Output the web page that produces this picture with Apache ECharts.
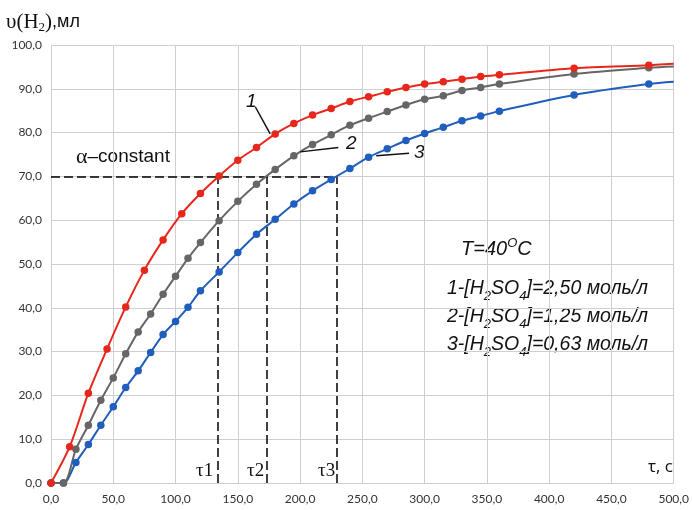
<!DOCTYPE html>
<html>
<head>
<meta charset="utf-8">
<script src="https://cdn.jsdelivr.net/npm/echarts@6/dist/echarts.min.js"></script>
<style>
html, body { margin: 0; padding: 0; background: #fff; }
#chart { width: 692px; height: 510px; }
</style>
</head>
<body>
<div id="chart"></div>
<script>
// time, s
var timeRed = [0, 15, 30, 45, 60, 75, 90, 105, 120, 135, 150, 165, 180, 195, 210, 225, 240, 255, 270, 285, 300, 315, 330, 345, 360, 420, 480, 500];
var volRed = [0, 8.3, 20.5, 30.6, 40.2, 48.6, 55.5, 61.5, 66.1, 70.1, 73.7, 76.6, 79.7, 82.1, 84.0, 85.5, 87.1, 88.2, 89.3, 90.3, 91.1, 91.6, 92.2, 92.8, 93.2, 94.7, 95.4, 95.7];

var timeGray = [0, 10, 20, 30, 40, 50, 60, 70, 80, 90, 100, 110, 120, 135, 150, 165, 180, 195, 210, 225, 240, 255, 270, 285, 300, 315, 330, 345, 360, 420, 480, 500];
var volGray = [0, 0, 7.7, 13.2, 18.9, 24.0, 29.5, 34.5, 38.6, 43.1, 47.2, 51.3, 54.9, 59.9, 64.3, 68.2, 71.6, 74.7, 77.3, 79.5, 81.7, 83.3, 84.8, 86.3, 87.6, 88.4, 89.6, 90.3, 91.1, 93.4, 94.8, 95.1];

var timeBlue = [0, 10, 20, 30, 40, 50, 60, 70, 80, 90, 100, 110, 120, 135, 150, 165, 180, 195, 210, 225, 240, 255, 270, 285, 300, 315, 330, 345, 360, 420, 480, 500];
var volBlue = [0, 0, 4.7, 8.8, 13.2, 17.4, 21.8, 25.6, 29.8, 33.9, 36.9, 40.1, 43.9, 48.2, 52.6, 56.8, 60.2, 63.7, 66.7, 69.3, 71.8, 74.4, 76.3, 78.2, 79.8, 81.2, 82.7, 83.8, 84.9, 88.6, 91.1, 91.6];

// alpha = const level and the times where each curve reaches it
var alphaLevel = 70;
var tauTimes = [133.5, 173, 229.4];

// leader lines for curve numbers (data coords)
var leaderStart = [[164, 85.9], [200.2, 75.6], [261.1, 74.7]];
var leaderEnd = [[176, 79.7], [230.7, 76.6], [287.5, 75.3]];

function pairs(xs, ys) {
	var out = [];
	for (var i = 0; i < xs.length; i++) out.push([xs[i], ys[i]]);
	return out;
}

function fmt(v) {
	return v.toFixed(1).replace('.', ',');
}

function curve(name, xs, ys, color) {
	// last point only continues the smoothed line, no marker
	var lastIdx = xs.length - 1;
	return {
		name: name,
		type: 'line',
		smooth: 0.3,
		symbol: 'circle',
		symbolSize: function (v, p) { return p.dataIndex === lastIdx ? 0 : 7.5; },
		data: pairs(xs, ys),
		lineStyle: { color: color, width: 2 },
		itemStyle: { color: color },
		z: 3
	};
}

var guideCoords = [[[0, alphaLevel], [tauTimes[2], alphaLevel]]];
tauTimes.forEach(function (t) {
	guideCoords.push([[t, 0], [t, alphaLevel]]);
});

var leaderCoords = leaderStart.map(function (s, i) {
	return [s, leaderEnd[i]];
});

var chart = echarts.init(document.getElementById('chart'));
var option = {
	animation: false,
	grid: { left: 51, right: 12, top: 45, bottom: 27 },
	xAxis: {
		type: 'value',
		min: 0,
		max: 500,
		interval: 50,
		axisLine: { show: false },
		axisTick: { show: false },
		splitLine: { lineStyle: { color: '#cfcfcf', width: 1 } },
		axisLabel: {
			formatter: fmt,
			color: '#333',
			fontFamily: 'Lato',
			fontSize: 12,
			margin: 10
		}
	},
	yAxis: {
		type: 'value',
		min: 0,
		max: 100,
		interval: 10,
		axisLine: { show: false },
		axisTick: { show: false },
		splitLine: { lineStyle: { color: '#cfcfcf', width: 1 } },
		axisLabel: {
			formatter: fmt,
			color: '#333',
			fontFamily: 'Lato',
			fontSize: 12,
			margin: 9
		}
	},
	series: [
		{
			type: 'lines',
			coordinateSystem: 'cartesian2d',
			polyline: false,
			silent: true,
			data: guideCoords.map(function (c) { return { coords: c }; }),
			lineStyle: { color: '#000', width: 1.5, type: [9, 4], opacity: 1 },
			z: 2
		},
		{
			type: 'lines',
			coordinateSystem: 'cartesian2d',
			silent: true,
			data: leaderCoords.map(function (c) { return { coords: c }; }),
			lineStyle: { color: '#111', width: 1.5, opacity: 1 },
			z: 4
		},
		curve('3', timeBlue, volBlue, '#1f5ebd'),
		curve('2', timeGray, volGray, '#666666'),
		curve('1', timeRed, volRed, '#e8271c')
	],
	graphic: [
		{
			type: 'text', left: 6, top: 12,
			style: {
				text: '{s|υ(H}{sub|2}{s|)}{a|,мл}',
				rich: {
					s: { fontFamily: 'Liberation Serif', fontSize: 21, lineHeight: 24, fill: '#111' },
					sub: { fontFamily: 'Liberation Serif', fontSize: 13, lineHeight: 8, verticalAlign: 'bottom', fill: '#111' },
					a: { fontFamily: 'Liberation Sans', fontSize: 18, lineHeight: 24, fill: '#111' }
				}
			}
		},
		{
			type: 'text', left: 76, top: 146,
			style: {
				text: '{g|α}{a|–constant}',
				rich: {
					g: { fontFamily: 'Liberation Serif', fontSize: 22, lineHeight: 24, fill: '#111' },
					a: { fontFamily: 'Liberation Sans', fontSize: 19, lineHeight: 24, fill: '#111' }
				}
			}
		},
		{ type: 'text', left: 196, top: 462, style: { text: 'τ1', font: '19px "Liberation Serif"', fill: '#111' } },
		{ type: 'text', left: 247, top: 462, style: { text: 'τ2', font: '19px "Liberation Serif"', fill: '#111' } },
		{ type: 'text', left: 318, top: 462, style: { text: 'τ3', font: '19px "Liberation Serif"', fill: '#111' } },
		{ type: 'text', left: 648, top: 459, style: { text: 'τ, с', font: '17px "Open Sans"', fill: '#111' } },
		{ type: 'text', left: 246, top: 92, style: { text: '1', font: 'italic 19px "Liberation Sans"', fill: '#111' } },
		{ type: 'text', left: 346, top: 134, style: { text: '2', font: 'italic 19px "Liberation Sans"', fill: '#111' } },
		{ type: 'text', left: 414, top: 143, style: { text: '3', font: 'italic 19px "Liberation Sans"', fill: '#111' } },
		{
			type: 'text', left: 461, top: 237,
			style: {
				text: '{a|T=40}{sup|O}{a|C}',
				rich: {
					a: { fontFamily: 'Liberation Sans', fontStyle: 'italic', fontSize: 20, lineHeight: 24, fill: '#111' },
					sup: { fontFamily: 'Liberation Sans', fontStyle: 'italic', fontSize: 13, lineHeight: 12, verticalAlign: 'top', fill: '#111' }
				}
			}
		},
		{
			type: 'text', left: 447, top: 279,
			style: {
				text: '{a|1-[H}{sub|2}{a|SO}{sub|4}{a|]=2,50 моль/л}\n{a|2-[H}{sub|2}{a|SO}{sub|4}{a|]=1,25 моль/л}\n{a|3-[H}{sub|2}{a|SO}{sub|4}{a|]=0,63 моль/л}',
				rich: {
					a: { fontFamily: 'Liberation Sans', fontStyle: 'italic', fontSize: 19.5, lineHeight: 28, fill: '#111' },
					sub: { fontFamily: 'Liberation Sans', fontStyle: 'italic', fontSize: 13, lineHeight: 8, verticalAlign: 'bottom', fill: '#111' }
				}
			}
		}
	]
};
chart.setOption(option);
</script>
</body>
</html>
